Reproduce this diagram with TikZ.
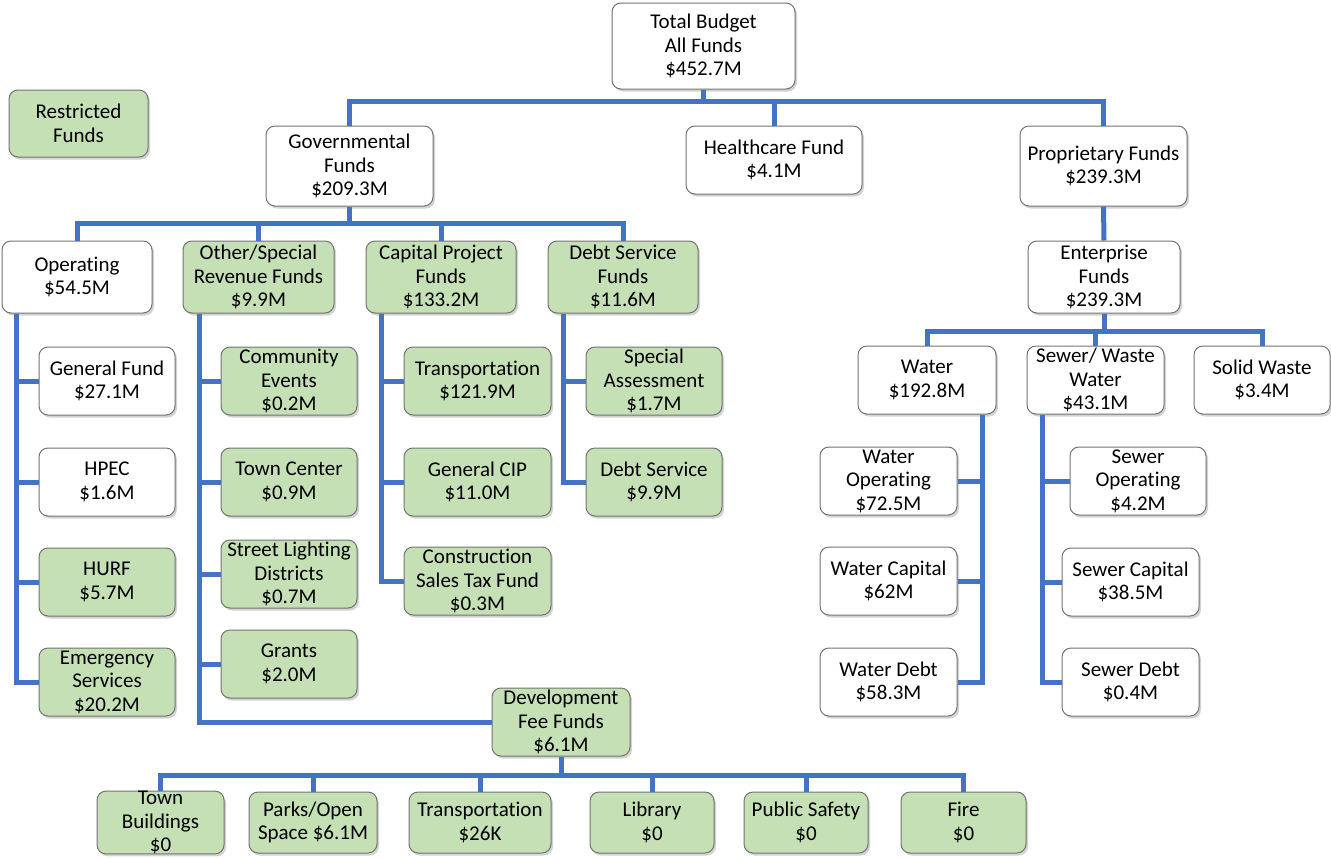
\documentclass[tikz,border=0pt]{standalone}
\usepackage{fontspec}
\setmainfont{Carlito}[Ligatures={NoCommon}]
\usetikzlibrary{shadows}
\definecolor{linkblue}{HTML}{4472C4}
\definecolor{restrgreen}{HTML}{C5E0B4}

\begin{document}
\begin{tikzpicture}[
	x=1pt, y=-1pt,
	box/.style = {draw=black!55, line width=1pt, fill=white, rounded corners=9pt, align=center, inner sep=0pt,
		font=\fontsize{21}{23.5}\selectfont, drop shadow={shadow xshift=2pt, shadow yshift=-2.5pt, opacity=0.35}},
	restricted/.style = {box, fill=restrgreen},
	small/.style = {minimum width=136, minimum height=68},
	link/.style = {draw=linkblue, line width=5pt}
	]
	\useasboundingbox (0,0) rectangle (1331,857);

	% top levels
	\node[box, minimum width=183, minimum height=86] (total) at (703.5,46) {Total Budget\\All Funds\\\$452.7M};
	\node[restricted, minimum width=139, minimum height=67] (restr) at (78.5,123.5) {Restricted\\Funds};

	\node[box, minimum width=167, minimum height=80] (gov) at (349.5,166) {Governmental\\Funds\\\$209.3M};
	\node[box, minimum width=176, minimum height=68] (health) at (774,160) {Healthcare Fund\\\$4.1M};
	\node[box, minimum width=167, minimum height=80] (prop) at (1103.5,166) {Proprietary Funds\\\$239.3M};

	\node[box, minimum width=150, minimum height=72] (oper) at (77,277) {Operating\\\$54.5M};
	\node[restricted, minimum width=151, minimum height=72] (other) at (258.5,277) {Other/Special\\Revenue Funds\\\$9.9M};
	\node[restricted, minimum width=150, minimum height=72] (capp) at (441,277) {Capital Project\\Funds\\\$133.2M};
	\node[restricted, minimum width=150, minimum height=72] (debtf) at (623,277) {Debt Service\\Funds\\\$11.6M};
	\node[box, minimum width=152, minimum height=72] (ent) at (1104,277) {Enterprise\\Funds\\\$239.3M};

	% operating
	\node[box, small] (genf) at (107,381) {General Fund\\\$27.1M};
	\node[box, small] (hpec) at (107,482) {HPEC\\\$1.6M};
	\node[restricted, small] (hurf) at (107,582) {HURF\\\$5.7M};
	\node[restricted, small] (emerg) at (107,682) {Emergency\\Services\\\$20.2M};

	% other / special revenue
	\node[restricted, small] (comm) at (289,381) {Community\\Events\\\$0.2M};
	\node[restricted, small] (townc) at (289,482) {Town Center\\\$0.9M};
	\node[restricted, small] (street) at (289,574) {Street Lighting\\Districts\\\$0.7M};
	\node[restricted, small] (grants) at (289,664) {Grants\\\$2.0M};
	\node[restricted, small, minimum width=138] (devf) at (561,722) {Development\\Fee Funds\\\$6.1M};

	% capital projects
	\node[restricted, small, minimum width=147] (transp) at (477.5,381) {Transportation\\\$121.9M};
	\node[restricted, small, minimum width=147] (gcip) at (477.5,482) {General CIP\\\$11.0M};
	\node[restricted, small, minimum width=147] (cst) at (477.5,581) {Construction\\Sales Tax Fund\\\$0.3M};

	% debt service
	\node[restricted, small] (sass) at (654,381) {Special\\Assessment\\\$1.7M};
	\node[restricted, small] (dsvc) at (654,482) {Debt Service\\\$9.9M};

	% development fees
	\node[restricted, minimum width=127, minimum height=61] (tb) at (160.5,822.5) {Town\\Buildings\\\$0};
	\node[restricted, minimum width=128, minimum height=61] (parks) at (313,822.5) {Parks/Open\\Space \$6.1M};
	\node[restricted, minimum width=142, minimum height=61] (transpb) at (480,822.5) {Transportation\\\$26K};
	\node[restricted, minimum width=124, minimum height=61] (lib) at (652,822.5) {Library\\\$0};
	\node[restricted, minimum width=124, minimum height=61] (psafe) at (806,822.5) {Public Safety\\\$0};
	\node[restricted, minimum width=125, minimum height=61] (fire) at (963.5,822.5) {Fire\\\$0};

	% enterprise
	\node[box, small, minimum width=138] (water) at (927,380) {Water\\\$192.8M};
	\node[box, small, minimum width=137] (sewer) at (1095.5,380) {Sewer/ Waste\\Water\\\$43.1M};
	\node[box, small] (solid) at (1262,380) {Solid Waste\\\$3.4M};

	\node[box, small, minimum width=137] (wop) at (888.5,481) {Water\\Operating\\\$72.5M};
	\node[box, small, minimum width=137] (wcap) at (888.5,581) {Water Capital\\\$62M};
	\node[box, small, minimum width=137] (wdebt) at (888.5,682) {Water Debt\\\$58.3M};

	\node[box, small] (sop) at (1138,481) {Sewer\\Operating\\\$4.2M};
	\node[box, small, minimum width=137] (scap) at (1130.5,582) {Sewer Capital\\\$38.5M};
	\node[box, small, minimum width=137] (sdebt) at (1130.5,682) {Sewer Debt\\\$0.4M};

	% connectors
	\coordinate (topbar) at (0,101);
	\coordinate (govbar) at (0,223);
	\coordinate (devbar) at (0,775);
	\coordinate (entbar) at (0,331);
	\coordinate (optrunk) at (16,0);
	\coordinate (othtrunk) at (199,0);
	\coordinate (captrunk) at (381,0);
	\coordinate (debttrunk) at (563,0);
	\coordinate (wtrunk) at (982,0);
	\coordinate (strunk) at (1042,0);

	\draw[link] (gov.north) |- (prop.north |- topbar) -- (prop.north);
	\draw[link] (total.south) -- (total.south |- topbar);
	\draw[link] (health.north) -- (health.north |- topbar);

	\draw[link] (oper.north) |- (debtf.north |- govbar) -- (debtf.north);
	\foreach \n in {gov.south,other.north,capp.north}
		\draw[link] (\n) -- (\n |- govbar);

	\draw[link] (oper.south -| optrunk) |- (emerg.west);
	\foreach \n in {genf,hpec,hurf}
		\draw[link] (\n.west) -- (\n.west -| optrunk);

	\draw[link] (other.south -| othtrunk) |- (devf.west);
	\foreach \n in {comm,townc,street,grants}
		\draw[link] (\n.west) -- (\n.west -| othtrunk);

	\draw[link] (capp.south -| captrunk) |- (cst.west);
	\foreach \n in {transp,gcip}
		\draw[link] (\n.west) -- (\n.west -| captrunk);

	\draw[link] (debtf.south -| debttrunk) |- (dsvc.west);
	\draw[link] (sass.west) -- (sass.west -| debttrunk);

	\draw[link] (tb.north) |- (fire.north |- devbar) -- (fire.north);
	\foreach \n in {devf.south,parks.north,transpb.north,lib.north,psafe.north}
		\draw[link] (\n) -- (\n |- devbar);

	\draw[link] (prop.south) -- (ent.north);
	\draw[link] (water.north) |- (solid.north |- entbar) -- (solid.north);
	\foreach \n in {ent.south,sewer.north}
		\draw[link] (\n) -- (\n |- entbar);

	\draw[link] (water.south -| wtrunk) |- (wdebt.east);
	\foreach \n in {wop,wcap}
		\draw[link] (\n.east) -- (\n.east -| wtrunk);

	\draw[link] (sewer.south -| strunk) |- (sdebt.west);
	\foreach \n in {sop,scap}
		\draw[link] (\n.west) -- (\n.west -| strunk);

\end{tikzpicture}
\end{document}
